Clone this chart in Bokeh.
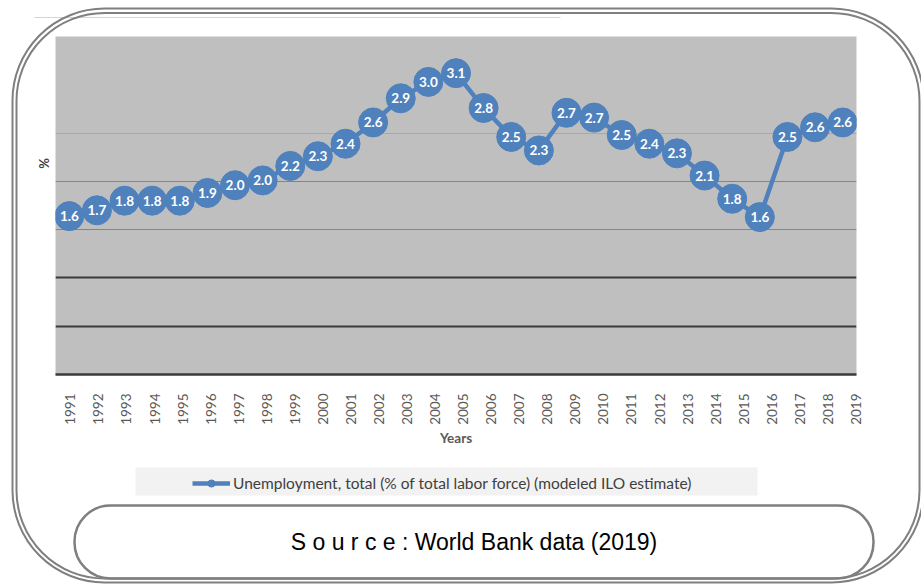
from math import pi
from bokeh.plotting import figure
from bokeh.models import (Range1d, FixedTicker, Grid, BoxAnnotation, Label, Legend,
                          LegendItem, ColumnDataSource, LinearAxis, GridBox)
from bokeh.embed import file_html
from bokeh.resources import INLINE
from bokeh.core.properties import value

# ---- data -------------------------------------------------------------
years = list(range(1991, 2020))
unemployment = [1.64, 1.70, 1.80, 1.80, 1.80, 1.88, 1.96, 2.01, 2.16, 2.26,
                2.39, 2.61, 2.86, 3.03, 3.12, 2.76, 2.46, 2.32, 2.71, 2.66,
                2.48, 2.39, 2.29, 2.06, 1.82, 1.63, 2.46, 2.56, 2.61]
tick_labels = [str(y) for y in years]
series_name = "Unemployment, total (% of total labor force) (modeled ILO estimate)"
x_title = "Years"
y_title = "%"
source_note = "S o u r c e : World Bank data (2019)"
light_grid = [2.5]
mid_grid = [1.5, 2.0]
dark_grid = [0.5, 1.0]

W, H = 921, 584
FL, FR, FT, FB = 55, 856, 36, 374   # plot-area edges in page pixels
blue = "#4F81BD"
grey = "#7F7F7F"

# ---- chart figure (bottom layer) --------------------------------------
p = figure(width=W, height=H, output_backend="svg", toolbar_location=None,
           title=None, x_axis_location=None, y_axis_location=None,
           x_range=Range1d(1990.5, 2019.5), y_range=Range1d(0, 3.5),
           min_border_left=FL, min_border_right=W - FR,
           min_border_top=FT, min_border_bottom=H - FB,
           frame_align=False)
p.xgrid.visible = False
p.ygrid.visible = False
p.background_fill_color = "#BFBFBF"
p.border_fill_color = "white"
p.outline_line_color = None
p.extra_x_ranges = {"ticks": Range1d(1990.47, 2019.02)}

p.add_layout(Grid(dimension=1, ticker=FixedTicker(ticks=light_grid),
                  grid_line_color="#A8A8A8", grid_line_width=1))
p.add_layout(Grid(dimension=1, ticker=FixedTicker(ticks=mid_grid),
                  grid_line_color="#858585", grid_line_width=1))
p.add_layout(Grid(dimension=1, ticker=FixedTicker(ticks=dark_grid),
                  grid_line_color="#3A3A3A", grid_line_width=2))

xa = LinearAxis(x_range_name="ticks", ticker=FixedTicker(ticks=years),
                major_label_overrides={y: t for y, t in zip(years, tick_labels)},
                major_label_orientation=pi / 2,
                axis_line_color="#3A3A3A", axis_line_width=2.5,
                major_tick_line_color=None, minor_tick_line_color=None,
                major_tick_in=0, major_tick_out=0,
                major_label_standoff=19,
                major_label_text_font="Lato", major_label_text_font_size="13.5px",
                major_label_text_color="#595959",
                axis_label=x_title, axis_label_standoff=2,
                axis_label_text_font="Lato", axis_label_text_font_size="13.5px",
                axis_label_text_font_style="bold", axis_label_text_color="#595959")
p.add_layout(xa, "below")

src = ColumnDataSource(dict(x=years, y=unemployment,
                            lab=[f"{v:.1f}" for v in unemployment]))
p.line("x", "y", source=src, line_color=blue, line_width=4.5)
p.scatter("x", "y", source=src, size=29, fill_color=blue, line_color=blue)
p.text("x", "y", text="lab", source=src, text_color="white",
       text_font=value("Lato"), text_font_style="bold", text_font_size="13.5px",
       text_align="center", text_baseline="middle")

# ---- overlay figure (top layer, transparent): frame, boxes, notes -----
bg = figure(width=W, height=H, output_backend="svg", toolbar_location=None,
            title=None, x_axis_location=None, y_axis_location=None,
            x_range=Range1d(0, W), y_range=Range1d(H, 0),
            min_border=0, frame_align=False)
bg.xgrid.visible = False
bg.ygrid.visible = False
bg.outline_line_color = None
bg.background_fill_color = None
bg.border_fill_color = None

box_line = dict(fill_alpha=0, line_color=grey, line_alpha=1)
bg.add_layout(BoxAnnotation(left=34, right=560, top=16.5, bottom=17.5,
                            fill_color="#D6D6D6", fill_alpha=1, line_color=None))
bg.add_layout(BoxAnnotation(left=12, right=923, top=8, bottom=582,
                            line_width=2, border_radius=92, **box_line))
bg.add_layout(BoxAnnotation(left=16, right=919, top=12.5, bottom=578,
                            line_width=2, border_radius=88, **box_line))
bg.add_layout(BoxAnnotation(left=74, right=873, top=505, bottom=578,
                            line_width=2.5, border_radius=36, **box_line))
bg.add_layout(BoxAnnotation(left=135, right=757, top=467, bottom=495,
                            fill_color="#F2F2F2", fill_alpha=1, line_color=None))

bg.add_layout(Label(x=43, y=163, text=y_title, angle=pi / 2, text_align="center",
                    text_baseline="middle", text_font="Lato",
                    text_font_style="bold", text_font_size="13px",
                    text_color="#404040"))
bg.add_layout(Label(x=473.5, y=541, text=source_note, text_align="center",
                    text_baseline="middle", text_font="Liberation Sans",
                    text_font_size="23px", text_color="black"))

# legend: key renderers share the series styling; their one point lies off-page
key = ColumnDataSource(dict(x=[-100], y=[-100]))
lg_line = bg.line("x", "y", source=key, line_color=blue, line_width=4.5)
lg_mark = bg.scatter("x", "y", source=key, size=29, fill_color=blue, line_color=blue)
leg = Legend(items=[LegendItem(label=series_name, renderers=[lg_line, lg_mark])],
             location=(192, 92), orientation="horizontal",
             background_fill_alpha=0, border_line_color=None,
             padding=0, margin=0, glyph_width=38, glyph_height=18,
             label_standoff=3, label_text_font="Lato",
             label_text_font_size="15.5px", label_text_color="#404040")
bg.add_layout(leg)

# ---- stack both figures in the same grid cell ------------------------
page = GridBox(children=[(p, 0, 0), (bg, 0, 0)])

open("out.html", "w").write(file_html(page, INLINE))
